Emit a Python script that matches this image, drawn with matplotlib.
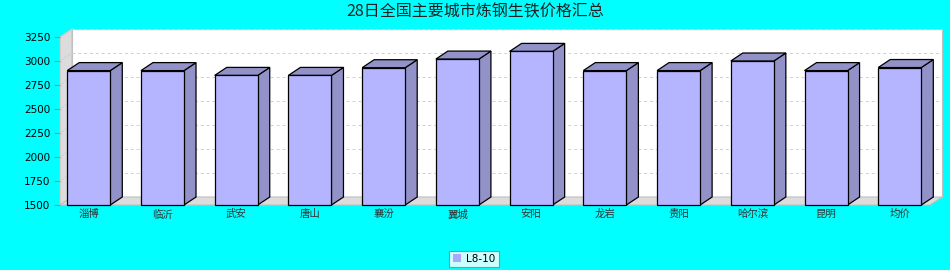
import matplotlib
matplotlib.use("Agg")
import matplotlib.pyplot as plt
from matplotlib.patches import Polygon, Rectangle

plt.rcParams['font.family'] = ['Noto Sans CJK SC', 'DejaVu Sans']

title = "28日全国主要城市炼钢生铁价格汇总"
cities = ["淄博", "临沂", "武安", "唐山", "襄汾", "翼城", "安阳", "龙岩", "贵阳", "哈尔滨", "昆明", "均价"]
prices = [2900, 2900, 2850, 2850, 2930, 3020, 3100, 2900, 2900, 3000, 2900, 2932]
series_name = "L8-10"
yticks = [1500, 1750, 2000, 2250, 2500, 2750, 3000, 3250]

W, H = 950, 270
fig = plt.figure(figsize=(W / 100, H / 100), dpi=100)
fig.patch.set_facecolor('#00ffff')

left, right, bottom, top = 60, 930, 205, 37
ax = fig.add_axes([left / W, 1 - bottom / H, (right - left) / W, (bottom - top) / H])
ax.set_facecolor('none')
xmin, xmax = -0.39, 11.41
ymin, ymax = 1500, 3250
ax.set_xlim(xmin, xmax)
ax.set_ylim(ymin, ymax)

# 3D depth offset in data units (12 px right, 8 px up)
px_x = (xmax - xmin) / (right - left)
px_y = (ymax - ymin) / (bottom - top)
dx, dy = 12 * px_x, 8 * px_y

# back wall
ax.add_patch(Rectangle((xmin + dx, ymin + dy), xmax - xmin, ymax - ymin,
                       facecolor='white', edgecolor='#c0c0c0', lw=0.8, clip_on=False, zorder=0))
# left wall
ax.add_patch(Polygon([(xmin, ymin), (xmin, ymax), (xmin + dx, ymax + dy), (xmin + dx, ymin + dy)],
                     closed=True, facecolor='#dcdcdc', edgecolor='#c0c0c0', lw=0.8, clip_on=False, zorder=0))
# floor
ax.add_patch(Polygon([(xmin, ymin), (xmax, ymin), (xmax + dx, ymin + dy), (xmin + dx, ymin + dy)],
                     closed=True, facecolor='#dcdcdc', edgecolor='#c0c0c0', lw=0.8, clip_on=False, zorder=0))
# grid lines
for t in yticks[1:]:
    ax.plot([xmin + dx, xmax + dx], [t + dy, t + dy], color='#cfcfcf', lw=0.7,
            ls=(0, (3, 3)), clip_on=False, zorder=1)
    ax.plot([xmin, xmin + dx], [t, t + dy], color='#cfcfcf', lw=0.6, clip_on=False, zorder=1)

# bars
bw = 0.584
front_c, side_c = '#b4b4ff', '#9292c8'
for i, v in enumerate(prices):
    x0, x1 = i - bw / 2, i + bw / 2
    ax.add_patch(Polygon([(x1, ymin), (x1, v), (x1 + dx, v + dy), (x1 + dx, ymin + dy)],
                         closed=True, facecolor=side_c, edgecolor='black', lw=0.9, clip_on=False, zorder=3))
    ax.add_patch(Polygon([(x0, v), (x1, v), (x1 + dx, v + dy), (x0 + dx, v + dy)],
                         closed=True, facecolor=side_c, edgecolor='black', lw=0.9, clip_on=False, zorder=3))
    ax.add_patch(Rectangle((x0, ymin), bw, v - ymin, facecolor=front_c, edgecolor='black',
                           lw=0.9, clip_on=False, zorder=4))

for s in ax.spines.values():
    s.set_visible(False)
ax.set_yticks(yticks)
ax.set_yticklabels([str(t) for t in yticks], fontsize=7.5, family='DejaVu Sans')
ax.tick_params(axis='y', length=4, color='#b08080', pad=3)
ax.set_xticks(range(len(cities)))
ax.set_xticklabels(cities, fontsize=7.5, color='#333333')
ax.tick_params(axis='x', length=0, pad=3)

fig.text(0.5, 1 - 12 / H, title, ha='center', va='center', fontsize=11.5, color='#222222')

leg_patch = Rectangle((0, 0), 1, 1, facecolor='#a8a8ff', edgecolor='none')
leg = fig.legend([leg_patch], [series_name], loc='center', bbox_to_anchor=(474 / W, 1 - 259 / H),
                 fontsize=7.5, frameon=True, fancybox=False, handlelength=0.8, handleheight=0.8,
                 handletextpad=0.5, borderpad=0.3, borderaxespad=0)
leg.get_frame().set_edgecolor('#808080')
leg.get_frame().set_linewidth(0.8)
for t in leg.get_texts():
    t.set_family('DejaVu Sans')

fig.savefig('out.png', dpi=100, facecolor=fig.get_facecolor())
